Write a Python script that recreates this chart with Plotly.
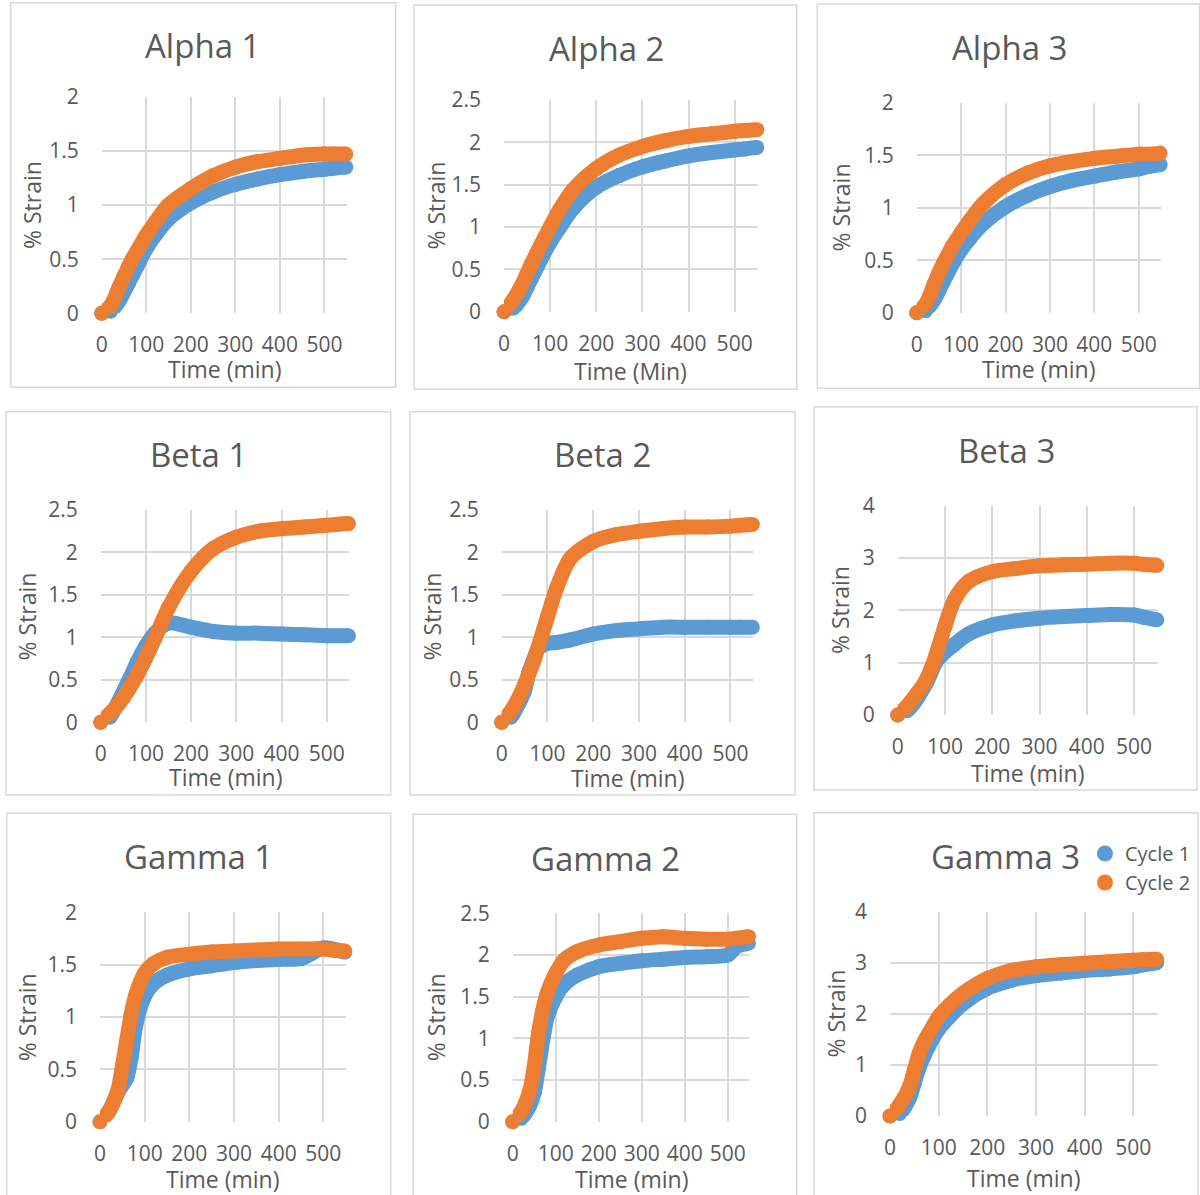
import plotly.graph_objects as go

# ---------------- data ----------------
T = [0, 20, 40, 50, 60, 70, 80, 100, 120, 150, 200, 250, 300, 350, 400, 450, 500, 520, 548]

alpha1_c1 = [0, 0.02, 0.12, 0.20, 0.28, 0.36, 0.44, 0.60, 0.72, 0.87, 1.02, 1.12, 1.19, 1.24, 1.28, 1.31, 1.33, 1.34, 1.35]
alpha1_c2 = [0, 0.07, 0.25, 0.34, 0.43, 0.51, 0.58, 0.72, 0.84, 1.00, 1.15, 1.27, 1.35, 1.40, 1.43, 1.46, 1.47, 1.47, 1.47]

alpha2_c1 = [0, 0.04, 0.18, 0.29, 0.40, 0.51, 0.62, 0.82, 0.99, 1.22, 1.47, 1.61, 1.71, 1.78, 1.84, 1.88, 1.91, 1.92, 1.94]
alpha2_c2 = [0, 0.14, 0.33, 0.45, 0.57, 0.68, 0.79, 1.00, 1.20, 1.44, 1.69, 1.85, 1.95, 2.02, 2.07, 2.10, 2.13, 2.14, 2.15]

alpha3_c1 = [0, 0.02, 0.13, 0.21, 0.30, 0.38, 0.46, 0.60, 0.71, 0.85, 1.01, 1.12, 1.20, 1.26, 1.30, 1.34, 1.37, 1.39, 1.41]
alpha3_c2 = [0, 0.08, 0.28, 0.38, 0.47, 0.55, 0.63, 0.76, 0.88, 1.04, 1.22, 1.33, 1.40, 1.44, 1.47, 1.49, 1.51, 1.51, 1.52]

beta1_c1 = [0, 0.06, 0.25, 0.36, 0.47, 0.58, 0.70, 0.90, 1.05, 1.17, 1.12, 1.07, 1.05, 1.05, 1.04, 1.03, 1.02, 1.02, 1.02]
beta1_c2 = [0, 0.10, 0.22, 0.29, 0.37, 0.46, 0.55, 0.76, 0.99, 1.35, 1.78, 2.05, 2.18, 2.25, 2.28, 2.30, 2.32, 2.33, 2.34]

beta2_c1 = [0, 0.06, 0.25, 0.37, 0.60, 0.74, 0.87, 0.93, 0.94, 0.97, 1.04, 1.08, 1.10, 1.12, 1.12, 1.12, 1.12, 1.12, 1.12]
beta2_c2 = [0, 0.13, 0.32, 0.44, 0.58, 0.72, 0.89, 1.24, 1.58, 1.93, 2.13, 2.21, 2.25, 2.28, 2.30, 2.30, 2.31, 2.32, 2.33]

beta3_c1 = [0, 0.08, 0.30, 0.45, 0.60, 0.80, 1.00, 1.20, 1.35, 1.55, 1.72, 1.80, 1.85, 1.88, 1.90, 1.92, 1.91, 1.87, 1.82]
beta3_c2 = [0, 0.17, 0.40, 0.52, 0.67, 0.87, 1.12, 1.70, 2.20, 2.55, 2.74, 2.80, 2.85, 2.87, 2.88, 2.90, 2.90, 2.88, 2.86]

gamma1_c1 = [0, 0.10, 0.28, 0.35, 0.42, 0.62, 0.92, 1.20, 1.32, 1.40, 1.46, 1.49, 1.52, 1.54, 1.55, 1.56, 1.66, 1.65, 1.62]
gamma1_c2 = [0, 0.10, 0.30, 0.53, 0.78, 1.03, 1.21, 1.42, 1.51, 1.57, 1.60, 1.62, 1.63, 1.64, 1.65, 1.65, 1.65, 1.64, 1.63]

gamma2_c1 = [0, 0.04, 0.20, 0.35, 0.65, 0.98, 1.25, 1.50, 1.65, 1.76, 1.86, 1.90, 1.93, 1.95, 1.97, 1.98, 2.00, 2.10, 2.14]
gamma2_c2 = [0, 0.12, 0.38, 0.66, 1.06, 1.34, 1.54, 1.78, 1.94, 2.04, 2.12, 2.16, 2.20, 2.22, 2.20, 2.19, 2.19, 2.20, 2.22]

gamma3_c1 = [0, 0.05, 0.35, 0.65, 0.95, 1.18, 1.38, 1.70, 1.92, 2.20, 2.50, 2.66, 2.75, 2.80, 2.85, 2.88, 2.92, 2.96, 3.00]
gamma3_c2 = [0, 0.22, 0.57, 0.90, 1.23, 1.45, 1.62, 1.94, 2.15, 2.40, 2.69, 2.85, 2.92, 2.96, 2.99, 3.02, 3.05, 3.06, 3.07]

titles = ["Alpha 1", "Alpha 2", "Alpha 3", "Beta 1", "Beta 2", "Beta 3", "Gamma 1", "Gamma 2", "Gamma 3"]
xtitles = ["Time (min)", "Time (Min)", "Time (min)", "Time (min)", "Time (min)", "Time (min)",
           "Time (min)", "Time (min)", "Time (min)"]
ytitle = "% Strain"
series_names = ["Cycle 1", "Cycle 2"]
ymax_list = [2, 2.5, 2, 2.5, 2.5, 4, 2, 2.5, 4]
ydtick_list = [0.5, 0.5, 0.5, 0.5, 0.5, 1, 0.5, 0.5, 1]
cycle1 = [alpha1_c1, alpha2_c1, alpha3_c1, beta1_c1, beta2_c1, beta3_c1, gamma1_c1, gamma2_c1, gamma3_c1]
cycle2 = [alpha1_c2, alpha2_c2, alpha3_c2, beta1_c2, beta2_c2, beta3_c2, gamma1_c2, gamma2_c2, gamma3_c2]
X_MAX = 550

# ---------------- layout geometry (pixels) ----------------
W, H = 1200, 1195
geo = [
    dict(pa=(101.7, 346.7, 96.7, 313.3), box=(10.7, 2.7, 395.7, 387.3), tt=(202, 46), yt=32, xt=369),
    dict(pa=(504, 757.7, 100, 311.7), box=(414, 5, 796.7, 389.3), tt=(606.7, 49), yt=435.7, xt=371),
    dict(pa=(916.7, 1161, 102.7, 312.7), box=(817.3, 4, 1199.5, 388.3), tt=(1009, 48), yt=840.7, xt=369.3),
    dict(pa=(100.7, 349.3, 510, 722.3), box=(6, 411.7, 390.7, 795), tt=(198, 455), yt=27.3, xt=776.7),
    dict(pa=(501.7, 753.3, 510, 722.3), box=(410, 411.7, 795, 795), tt=(602.3, 455), yt=432.3, xt=777.7),
    dict(pa=(897.7, 1157.7, 505.7, 715), box=(814, 406.7, 1197, 790), tt=(1006.7, 450), yt=840.7, xt=773.3),
    dict(pa=(100, 345.7, 912.3, 1121.7), box=(6.7, 813.3, 390.7, 1205), tt=(198.3, 857), yt=27.3, xt=1178.7),
    dict(pa=(512.7, 749.3, 913.3, 1121.7), box=(413.3, 814.3, 796.7, 1205), tt=(605, 858), yt=435.7, xt=1179.3),
    dict(pa=(890, 1157.7, 911.7, 1116), box=(814, 812.7, 1198, 1205), tt=(1005.7, 856), yt=835.7, xt=1177.7),
]

BLUE = "#5B9BD5"
ORANGE = "#ED7D31"
GRID = "#D9D9D9"
TXT = "#595959"
FONT = "Open Sans, sans-serif"
LW = 15

def px(x):
    return x / W

def py(y):
    return 1 - y / H

fig = go.Figure()
layout = dict(
    template="none",
    width=W, height=H, margin=dict(l=0, r=0, t=0, b=0, pad=0), autosize=False,
    paper_bgcolor="white", plot_bgcolor="white",
    font=dict(family=FONT, color=TXT),
    shapes=[], annotations=[],
)

for i in range(9):
    g = geo[i]
    n = "" if i == 0 else str(i + 1)
    x0, xr, yt_, yb = g["pa"]
    layout["xaxis" + n] = dict(
        domain=[px(x0), px(xr)], range=[0, X_MAX], tick0=0, dtick=100,
        showgrid=True, gridcolor=GRID, gridwidth=1.5, zeroline=False, showline=False,
        ticks="", ticklabelstandoff=17, tickfont=dict(size=21, color=TXT, family=FONT),
        anchor="y" + n, fixedrange=True, automargin=False,
    )
    layout["yaxis" + n] = dict(
        domain=[py(yb), py(yt_)], range=[0, ymax_list[i]], tick0=0, dtick=ydtick_list[i],
        showgrid=True, gridcolor=GRID, gridwidth=1.5, zeroline=False, showline=False,
        ticks="", ticklabelstandoff=22, tickfont=dict(size=21, color=TXT, family=FONT),
        anchor="x" + n, fixedrange=True, automargin=False,
    )
    for data, col in ((cycle1[i], BLUE), (cycle2[i], ORANGE)):
        fig.add_trace(go.Scatter(
            x=T, y=data, mode="lines+markers",
            line=dict(color=col, width=LW, shape="spline", smoothing=0.8),
            marker=dict(color=col, size=LW, line=dict(width=0)),
            cliponaxis=False, showlegend=False, hoverinfo="skip",
            xaxis="x" + n, yaxis="y" + n,
        ))
    bl, bt, br, bb = g["box"]
    layout["shapes"].append(dict(
        type="rect", xref="paper", yref="paper",
        x0=px(bl), x1=px(br), y0=py(bb), y1=py(bt),
        line=dict(color=GRID, width=1.5), fillcolor="rgba(0,0,0,0)", layer="below",
    ))
    tx, ty = g["tt"]
    layout["annotations"].append(dict(
        text=titles[i], x=px(tx), y=py(ty), xref="paper", yref="paper",
        xanchor="center", yanchor="middle", showarrow=False,
        font=dict(size=33, color=TXT, family=FONT),
    ))
    layout["annotations"].append(dict(
        text=ytitle, x=px(g["yt"]), y=py((yt_ + yb) / 2), xref="paper", yref="paper",
        xanchor="center", yanchor="middle", showarrow=False, textangle=-90,
        font=dict(size=23, color=TXT, family=FONT),
    ))
    layout["annotations"].append(dict(
        text=xtitles[i], x=px((x0 + xr) / 2), y=py(g["xt"]), xref="paper", yref="paper",
        xanchor="center", yanchor="middle", showarrow=False,
        font=dict(size=23, color=TXT, family=FONT),
    ))

for name, col in zip(series_names, (BLUE, ORANGE)):
    fig.add_trace(go.Scatter(
        x=[None], y=[None], mode="markers", name=name,
        marker=dict(color=col, size=16), xaxis="x9", yaxis="y9", showlegend=True,
    ))

layout["legend"] = dict(
    x=px(1085), y=py(834), xanchor="left", yanchor="top",
    font=dict(size=20, color=TXT, family=FONT), bgcolor="rgba(0,0,0,0)",
    itemwidth=30, tracegroupgap=0, borderwidth=0,
)
layout["showlegend"] = True
fig.update_layout(**layout)
fig.write_html("out.html", config={"displayModeBar": False},
               post_script="document.body.style.margin='0';document.body.style.overflow='hidden';")
